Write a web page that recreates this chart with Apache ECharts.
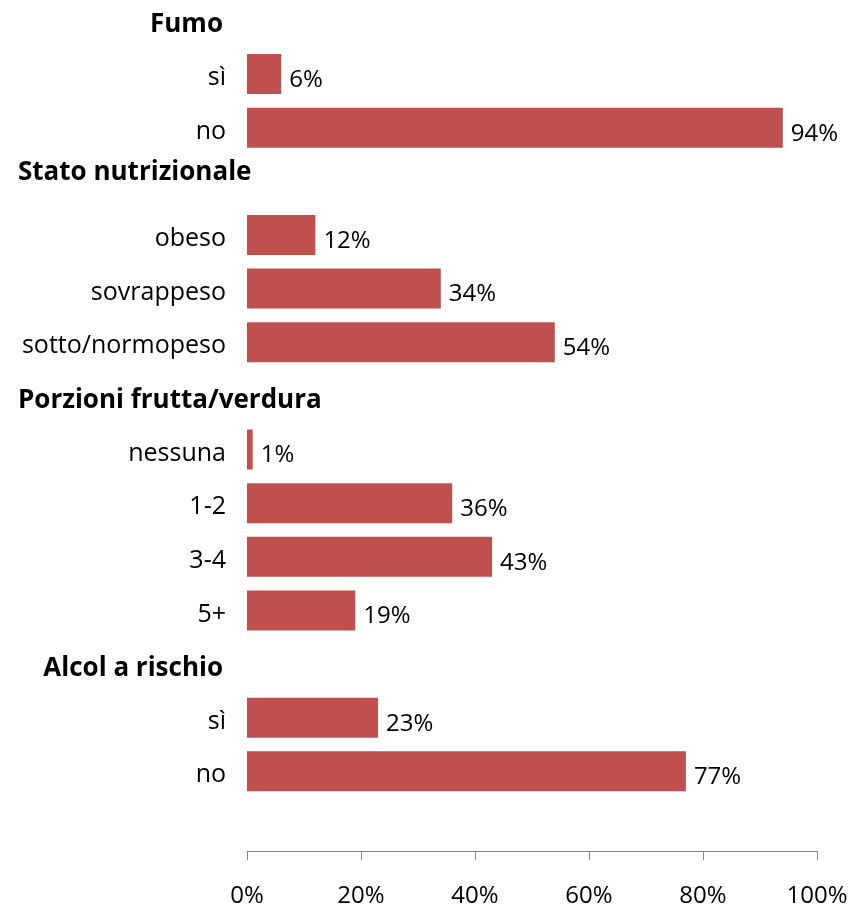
<!DOCTYPE html>
<html>
<head>
<meta charset="utf-8">
<script src="https://cdn.jsdelivr.net/npm/echarts@6/dist/echarts.min.js"></script>
<style>
  html, body { margin: 0; padding: 0; background: #ffffff; }
  #chart { width: 861px; height: 906px; }
</style>
</head>
<body>
<div id="chart"></div>
<script>
// Section titles and their answer categories (top to bottom)
const groupTitles = ['Fumo', 'Stato nutrizionale', 'Porzioni frutta/verdura', 'Alcol a rischio'];
const fumoItems = ['sì', 'no'];
const fumoValues = [6, 94];
const statoItems = ['obeso', 'sovrappeso', 'sotto/normopeso'];
const statoValues = [12, 34, 54];
const porzioniItems = ['nessuna', '1-2', '3-4', '5+'];
const porzioniValues = [1, 36, 43, 19];
const alcolItems = ['sì', 'no'];
const alcolValues = [23, 77];
const xTicks = [0, 20, 40, 60, 80, 100];

const groups = [
  [fumoItems, fumoValues],
  [statoItems, statoValues],
  [porzioniItems, porzioniValues],
  [alcolItems, alcolValues]
];

// Build the row list: one title row per section followed by its items,
// plus one empty row at the bottom.
const rowLabels = [];
const rowValues = [];
const titleRows = [];
groups.forEach(function (g) {
  titleRows.push(rowLabels.length);
  rowLabels.push('');
  rowValues.push('-');
  g[0].forEach(function (name, i) {
    rowLabels.push(name);
    rowValues.push(g[1][i]);
  });
});
rowLabels.push('');
rowValues.push('-');

const FONT = '"Open Sans", "Noto Sans", sans-serif';
const chart = echarts.init(document.getElementById('chart'), null, { renderer: 'canvas' });

// Rows sit on the category ticks (boundaryGap off): the first row at the
// grid top, the last (empty) row at the grid bottom; the percentage axis
// is pushed down by one half row below it.
chart.setOption({
  animation: false,
  backgroundColor: '#ffffff',
  grid: {
    left: 247, right: 44, top: 20.4, bottom: 81,
    containLabel: false,
    outerBoundsMode: 'none'
  },
  xAxis: {
    type: 'value',
    min: xTicks[0],
    max: xTicks[xTicks.length - 1],
    interval: xTicks[1] - xTicks[0],
    offset: 26,
    splitLine: { show: false },
    axisLine: { show: true, lineStyle: { color: '#868686', width: 1 } },
    axisTick: { show: true, length: 9, lineStyle: { color: '#868686', width: 1 } },
    axisLabel: {
      formatter: '{value}%',
      fontFamily: FONT,
      fontSize: 24,
      color: '#000000',
      margin: 33
    }
  },
  yAxis: {
    type: 'category',
    inverse: true,
    boundaryGap: false,
    data: rowLabels,
    axisLine: { show: false },
    axisTick: { show: false },
    splitLine: { show: false },
    axisLabel: {
      interval: 0,
      fontFamily: FONT,
      fontSize: 25,
      color: '#000000',
      margin: 21,
      verticalAlign: 'top',
      lineHeight: 8
    }
  },
  series: [{
    type: 'bar',
    data: rowValues,
    barWidth: 40,
    itemStyle: { color: '#C0504D' },
    label: {
      show: true,
      position: 'right',
      distance: 8,
      offset: [0, 6],
      formatter: '{c}%',
      fontFamily: FONT,
      fontSize: 24,
      color: '#000000'
    }
  }]
});

// Section titles in bold, placed on their own rows of the category axis
const titleAlign = ['right', 'left', 'left', 'right'];
const titleShift = [4, -9, 5, 5];
const graphics = groupTitles.map(function (title, i) {
  const y = chart.convertToPixel({ yAxisIndex: 0 }, titleRows[i]);
  const right = titleAlign[i] === 'right';
  return {
    type: 'text',
    x: right ? 223 : 18,
    y: y + titleShift[i],
    style: {
      text: title,
      fontFamily: FONT,
      fontWeight: 'bold',
      fontSize: 26,
      fill: '#000000',
      align: titleAlign[i],
      verticalAlign: 'middle'
    }
  };
});
chart.setOption({ graphic: graphics });
</script>
</body>
</html>
